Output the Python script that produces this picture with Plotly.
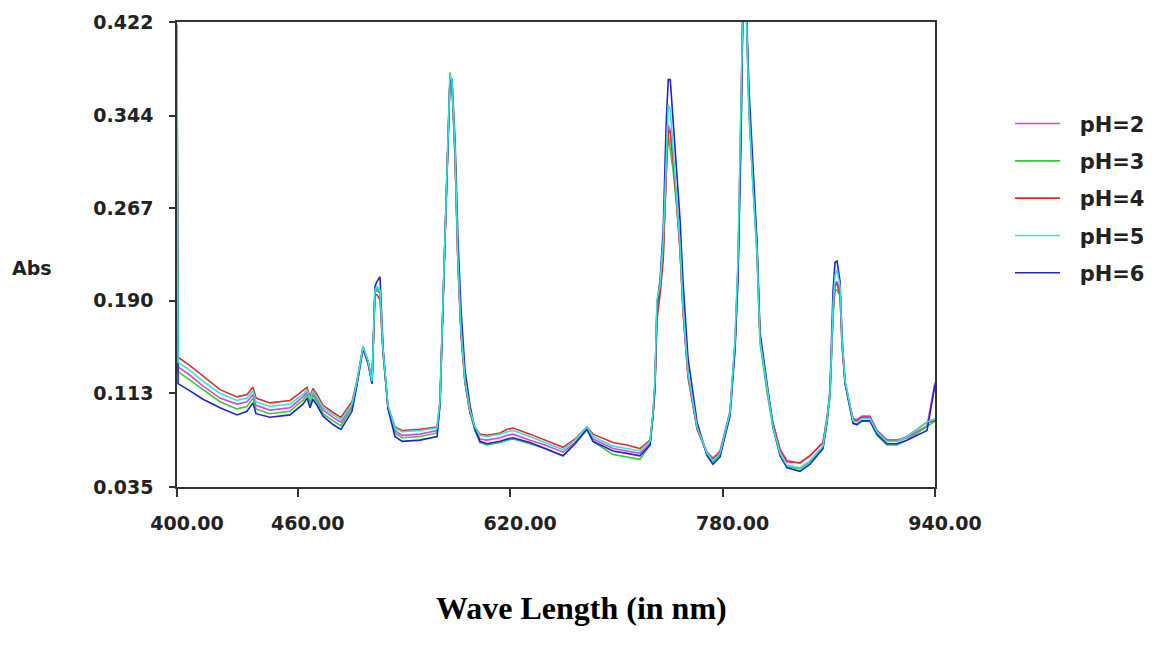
import plotly.graph_objects as go

# wavelength (nm) of each reading
wavelength = [369.1, 369.9, 378.9, 388.7, 401.5, 414.3, 421.8, 426.3, 428.6, 439.1,
              454.2, 460.2, 464.0, 467.0, 469.3, 471.5, 474.5, 479.1, 486.6, 492.6,
              500.9, 504.7, 509.2, 513.0, 516.0, 518.2, 519.7, 522.0, 524.3, 528.0,
              533.3, 538.6, 552.1, 565.0, 567.2, 569.5, 571.7, 573.2, 574.7, 576.2,
              578.5, 580.7, 583.0, 586.0, 589.8, 593.5, 597.3, 602.6, 612.4, 617.7,
              622.2, 635.0, 646.3, 659.8, 668.9, 677.9, 682.4, 697.5, 708.0, 717.8,
              725.4, 727.6, 729.1, 730.6, 732.9, 735.3, 737.6, 739.1, 740.6, 742.7,
              745.7, 748.0, 750.2, 754.0, 760.8, 768.3, 772.8, 778.1, 785.6, 789.4,
              791.6, 793.9, 795.4, 797.7, 799.9, 802.9, 805.9, 808.2, 813.5, 818.0,
              823.3, 828.5, 838.3, 845.9, 855.6, 858.7, 860.9, 863.2, 864.7, 866.2,
              868.5, 870.0, 872.2, 876.0, 878.3, 881.3, 885.0, 891.0, 896.3, 903.8,
              911.4, 918.9, 926.5, 934.0, 940.0]

abs_ph2 = [0.370, 0.135, 0.128, 0.119, 0.109, 0.104, 0.106, 0.112, 0.103, 0.099,
           0.101, 0.107, 0.110, 0.114, 0.106, 0.113, 0.108, 0.099, 0.093, 0.089,
           0.102, 0.122, 0.151, 0.139, 0.122, 0.197, 0.200, 0.197, 0.147, 0.101,
           0.082, 0.078, 0.079, 0.082, 0.105, 0.191, 0.274, 0.336, 0.376, 0.372,
           0.312, 0.222, 0.164, 0.122, 0.097, 0.083, 0.075, 0.074, 0.076, 0.078,
           0.079, 0.074, 0.070, 0.064, 0.072, 0.084, 0.075, 0.067, 0.065, 0.063,
           0.071, 0.095, 0.120, 0.183, 0.199, 0.233, 0.299, 0.336, 0.332, 0.308,
           0.270, 0.232, 0.183, 0.128, 0.084, 0.064, 0.059, 0.065, 0.098, 0.155,
           0.220, 0.345, 0.440, 0.440, 0.351, 0.288, 0.235, 0.159, 0.118, 0.088,
           0.066, 0.057, 0.055, 0.061, 0.072, 0.093, 0.111, 0.181, 0.204, 0.206,
           0.197, 0.155, 0.123, 0.103, 0.092, 0.091, 0.094, 0.094, 0.082, 0.074,
           0.073, 0.076, 0.081, 0.086, 0.122]

abs_ph3 = [0.420, 0.131, 0.124, 0.116, 0.106, 0.100, 0.102, 0.109, 0.100, 0.096,
           0.098, 0.104, 0.107, 0.112, 0.104, 0.111, 0.106, 0.096, 0.090, 0.086,
           0.101, 0.121, 0.151, 0.138, 0.121, 0.197, 0.199, 0.196, 0.147, 0.101,
           0.080, 0.076, 0.077, 0.080, 0.105, 0.191, 0.274, 0.344, 0.380, 0.367,
           0.312, 0.222, 0.164, 0.122, 0.097, 0.082, 0.072, 0.070, 0.072, 0.074,
           0.075, 0.071, 0.067, 0.061, 0.071, 0.083, 0.073, 0.062, 0.060, 0.058,
           0.070, 0.095, 0.120, 0.183, 0.199, 0.228, 0.307, 0.328, 0.316, 0.299,
           0.266, 0.232, 0.183, 0.128, 0.084, 0.062, 0.056, 0.062, 0.097, 0.155,
           0.216, 0.332, 0.440, 0.440, 0.345, 0.281, 0.228, 0.155, 0.114, 0.084,
           0.062, 0.052, 0.050, 0.056, 0.067, 0.089, 0.109, 0.177, 0.199, 0.199,
           0.194, 0.153, 0.122, 0.100, 0.088, 0.087, 0.090, 0.090, 0.078, 0.070,
           0.070, 0.074, 0.080, 0.086, 0.090]

abs_ph4 = [0.393, 0.143, 0.136, 0.127, 0.116, 0.110, 0.112, 0.118, 0.109, 0.105,
           0.107, 0.112, 0.115, 0.118, 0.110, 0.117, 0.112, 0.103, 0.097, 0.093,
           0.106, 0.124, 0.152, 0.140, 0.123, 0.195, 0.195, 0.191, 0.147, 0.102,
           0.085, 0.082, 0.083, 0.085, 0.107, 0.191, 0.274, 0.336, 0.374, 0.372,
           0.309, 0.220, 0.162, 0.122, 0.097, 0.085, 0.079, 0.078, 0.080, 0.083,
           0.084, 0.079, 0.074, 0.068, 0.075, 0.085, 0.079, 0.072, 0.070, 0.067,
           0.074, 0.095, 0.116, 0.174, 0.195, 0.224, 0.295, 0.332, 0.330, 0.308,
           0.266, 0.232, 0.181, 0.126, 0.083, 0.063, 0.058, 0.064, 0.097, 0.153,
           0.216, 0.340, 0.440, 0.440, 0.353, 0.289, 0.236, 0.160, 0.118, 0.088,
           0.066, 0.056, 0.055, 0.061, 0.072, 0.093, 0.113, 0.181, 0.203, 0.204,
           0.195, 0.153, 0.122, 0.102, 0.091, 0.090, 0.093, 0.093, 0.082, 0.074,
           0.074, 0.077, 0.083, 0.089, 0.090]

abs_ph5 = [0.405, 0.139, 0.132, 0.123, 0.113, 0.107, 0.109, 0.115, 0.106, 0.102,
           0.104, 0.109, 0.112, 0.116, 0.108, 0.115, 0.110, 0.101, 0.095, 0.091,
           0.104, 0.123, 0.152, 0.140, 0.123, 0.199, 0.202, 0.199, 0.149, 0.103,
           0.084, 0.081, 0.082, 0.084, 0.107, 0.191, 0.274, 0.340, 0.378, 0.374,
           0.316, 0.224, 0.166, 0.124, 0.099, 0.085, 0.078, 0.077, 0.079, 0.081,
           0.082, 0.077, 0.072, 0.066, 0.074, 0.085, 0.077, 0.069, 0.067, 0.065,
           0.073, 0.097, 0.124, 0.191, 0.203, 0.241, 0.307, 0.353, 0.349, 0.316,
           0.274, 0.236, 0.185, 0.130, 0.085, 0.063, 0.057, 0.063, 0.097, 0.157,
           0.224, 0.357, 0.440, 0.440, 0.349, 0.285, 0.232, 0.157, 0.116, 0.085,
           0.063, 0.053, 0.051, 0.057, 0.069, 0.091, 0.113, 0.185, 0.211, 0.216,
           0.202, 0.157, 0.124, 0.102, 0.090, 0.089, 0.092, 0.092, 0.081, 0.073,
           0.073, 0.077, 0.083, 0.089, 0.092]

abs_ph6 = [0.358, 0.121, 0.115, 0.108, 0.101, 0.095, 0.098, 0.105, 0.096, 0.093,
           0.095, 0.101, 0.104, 0.109, 0.101, 0.108, 0.103, 0.094, 0.087, 0.083,
           0.098, 0.120, 0.150, 0.138, 0.121, 0.202, 0.206, 0.210, 0.151, 0.100,
           0.077, 0.073, 0.074, 0.077, 0.104, 0.189, 0.272, 0.332, 0.374, 0.374,
           0.324, 0.241, 0.183, 0.132, 0.103, 0.083, 0.073, 0.071, 0.073, 0.075,
           0.076, 0.072, 0.067, 0.061, 0.071, 0.083, 0.073, 0.065, 0.063, 0.061,
           0.070, 0.095, 0.120, 0.187, 0.207, 0.249, 0.340, 0.374, 0.374, 0.341,
           0.299, 0.257, 0.206, 0.142, 0.089, 0.061, 0.054, 0.060, 0.094, 0.149,
           0.207, 0.324, 0.440, 0.440, 0.366, 0.297, 0.240, 0.164, 0.120, 0.085,
           0.061, 0.051, 0.048, 0.054, 0.067, 0.089, 0.116, 0.198, 0.222, 0.223,
           0.206, 0.160, 0.122, 0.100, 0.088, 0.087, 0.090, 0.090, 0.079, 0.071,
           0.071, 0.074, 0.078, 0.082, 0.120]

series = [
    # name, values, colour, legend rank
    ("pH=2", abs_ph2, "#dd44dd", 1),
    ("pH=3", abs_ph3, "#33cc33", 2),
    ("pH=4", abs_ph4, "#dd2c2c", 3),
    ("pH=6", abs_ph6, "#2323c8", 5),
    ("pH=5", abs_ph5, "#2ee6dc", 4),
]

y_ticks = [0.035, 0.113, 0.190, 0.267, 0.344, 0.422]
x_ticks = [369.1, 460, 620, 780, 940]
x_ticktext = ["400.00", "460.00", "620.00", "780.00", "940.00"]

fig = go.Figure()
for name, vals, colour, rank in series:
    fig.add_trace(go.Scatter(
        x=wavelength, y=vals, name="\u00a0\u00a0" + name, mode="lines",
        line=dict(color=colour, width=1.6),
        legendgroup=name, legendrank=rank,
    ))

tick_font = dict(family="DejaVu Sans", size=19, color="#222222", weight="bold")

# the page adds an 8px body margin, so margins are trimmed by 8 on left/top
fig.update_layout(
    width=1155, height=646,
    margin=dict(l=169, r=228, t=14, b=167),
    plot_bgcolor="white", paper_bgcolor="white",
    showlegend=True,
    legend=dict(
        x=1.099, y=0.825, xanchor="left", yanchor="top",
        font=dict(family="DejaVu Sans", size=21, color="#222222", weight="bold"),
        tracegroupgap=7, itemwidth=45, bgcolor="rgba(0,0,0,0)",
    ),
    xaxis=dict(
        range=[369.1, 940], tickvals=x_ticks, ticktext=x_ticktext,
        showgrid=False, zeroline=False, automargin=False,
        showline=True, linecolor="#333333", linewidth=1.5, mirror=True,
        ticks="outside", ticklen=8, tickcolor="#333333", tickwidth=1.5,
        tickfont=tick_font, ticklabelstandoff=10, ticklabelshift=10,
    ),
    yaxis=dict(
        range=[0.035, 0.422], tickvals=y_ticks, tickformat=".3f",
        showgrid=False, zeroline=False, automargin=False,
        showline=True, linecolor="#333333", linewidth=1.5, mirror=True,
        ticks="outside", ticklen=6, tickcolor="#333333", tickwidth=1.5,
        tickfont=tick_font, ticklabelstandoff=12,
    ),
)

fig.add_annotation(
    text="Abs", xref="paper", yref="paper", x=-0.22, y=0.47,
    xanchor="left", yanchor="middle", showarrow=False,
    font=dict(family="DejaVu Sans", size=19, color="#222222", weight="bold"),
)
fig.add_annotation(
    text="Wave Length (in nm)", xref="paper", yref="paper", x=0.534, y=-0.26,
    xanchor="center", yanchor="middle", showarrow=False,
    font=dict(family="Liberation Serif", size=32, color="black", weight="bold"),
)

fig.write_html("out.html")
